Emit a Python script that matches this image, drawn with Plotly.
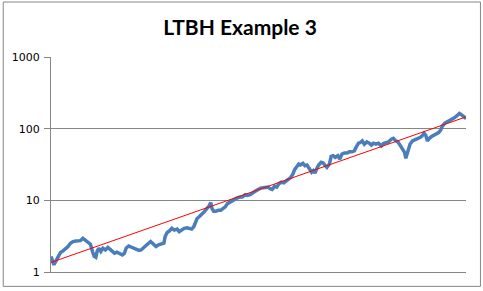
import plotly.graph_objects as go

# time (years, 0..100) and price values
t = [0, 0.4, 0.7, 1.2, 1.7, 2.3, 2.9, 3.6, 4.1, 4.7, 5.3, 6.0, 6.5, 7.1, 7.7, 8.3, 8.9, 9.5,
     10.0, 10.4, 10.8, 11.1, 11.5, 12.0, 12.5, 13.1, 13.7, 14.3, 14.8, 15.3, 15.9, 16.5,
     17.2, 17.7, 18.1, 18.7, 19.3, 19.9, 20.5, 21.2, 21.7, 22.3, 22.9, 23.5, 24.0, 24.5,
     25.3, 25.9, 26.5, 27.2, 27.5, 28.0, 28.5, 29.1, 29.7, 30.4, 30.9, 31.5, 32.1, 32.8,
     33.3, 33.9, 34.4, 34.8, 35.2, 35.7, 36.1, 36.5, 36.9, 37.3, 37.7, 38.1, 38.5, 38.8,
     39.2, 39.7, 40.3, 40.9, 41.5, 42.0, 42.5, 43.1, 43.7, 44.3, 44.9, 45.6, 46.1, 46.8,
     47.3, 48.0, 48.8, 49.3, 49.9, 50.5, 51.2, 51.7, 52.3, 52.8, 53.3, 53.9, 54.4, 54.9,
     55.5, 56.1, 56.7, 57.3, 57.8, 58.3, 58.7, 59.3, 59.7, 60.1, 60.7, 61.2, 61.7, 62.3,
     62.8, 63.2, 63.6, 64.0, 64.5, 65.1, 65.6, 66.1, 66.5, 67.1, 67.5, 68.0, 68.5, 69.1,
     69.6, 70.1, 70.7, 71.3, 71.9, 72.5, 73.1, 73.5, 74.1, 74.5, 75.0, 75.5, 76.1, 76.7,
     77.2, 77.7, 78.3, 78.9, 79.6, 80.1, 80.7, 81.3, 82.0, 82.5, 83.1, 83.6, 84.1, 84.7,
     85.2, 85.5, 85.8, 86.1, 86.5, 87.1, 87.7, 88.3, 88.9, 89.4, 89.9, 90.3, 90.7, 91.1,
     91.7, 92.2, 92.9, 93.4, 93.9, 94.3, 94.9, 95.5, 96.1, 96.6, 97.2, 97.9, 98.4, 98.8,
     99.2, 99.8, 100]
price = [1.65, 1.33, 1.26, 1.43, 1.65, 1.87, 1.97, 2.10, 2.27, 2.52, 2.66, 2.71, 2.71, 2.74,
         2.95, 2.74, 2.60, 2.44, 1.93, 1.65, 1.60, 1.93, 2.15, 1.93, 2.15, 2.03, 2.20, 2.03,
         1.93, 1.83, 1.89, 1.83, 1.73, 1.83, 2.15, 2.31, 2.22, 2.15, 2.03, 2.00, 2.03, 2.20,
         2.39, 2.52, 2.66, 2.52, 2.27, 2.39, 2.44, 2.52, 3.12, 3.57, 3.72, 4.06, 3.85, 3.97,
         3.65, 3.85, 4.06, 4.15, 4.06, 3.97, 4.28, 5.12, 5.58, 5.89, 6.34, 6.54, 6.90, 7.50,
         7.84, 8.36, 9.29, 7.67, 7.04, 7.04, 7.27, 7.27, 7.84, 8.10, 9.00, 9.49, 9.68, 10.5,
         10.8, 11.1, 11.1, 12.0, 11.7, 12.0, 13.1, 13.5, 14.2, 14.8, 15.0, 15.3, 15.3, 14.5,
         14.2, 15.8, 15.3, 17.0, 17.9, 17.5, 18.9, 19.9, 21.0, 23.4, 26.8, 29.9, 32.1, 31.1,
         32.9, 30.4, 31.1, 27.4, 24.7, 26.0, 24.1, 27.4, 31.1, 33.9, 33.2, 30.4, 28.9, 32.1,
         41.1, 41.9, 39.8, 41.9, 37.7, 44.2, 45.6, 45.6, 47.5, 47.5, 49.1, 54.7, 62.7, 64.1,
         67.5, 60.7, 65.3, 62.7, 58.9, 62.7, 60.7, 62.7, 57.5, 62.1, 64.1, 65.3, 71.3, 73.5,
         67.5, 65.3, 58.9, 53.0, 46.6, 38.5, 44.2, 53.0, 60.7, 67.5, 71.3, 72.8, 75.2, 79.1,
         86.3, 80.9, 67.5, 72.8, 77.6, 80.9, 83.5, 88.2, 95.8, 109, 119, 124, 128, 135, 142,
         153, 163, 158, 150, 142, 143]

trend_t = [0, 100]
trend_v = [1.36, 146]

title_text = "LTBH Example 3"
ytick_vals = [1, 10, 100, 1000]
ytick_text = ["1", "10", "100", "1000"]

fig = go.Figure()
fig.add_trace(go.Scatter(x=t, y=price, mode="lines",
                         line=dict(color="#4a7ebb", width=3.5), showlegend=False))
fig.add_trace(go.Scatter(x=trend_t, y=trend_v, mode="lines",
                         line=dict(color="#ff0000", width=1), showlegend=False))

fig.update_layout(
    width=483, height=291,
    margin=dict(l=49.5, r=16.5, t=57, b=17, pad=0),
    paper_bgcolor="white", plot_bgcolor="white",
    title=dict(text=title_text, x=0.497, xanchor="center", y=0.905, yanchor="middle",
               font=dict(family="Lato", size=21, color="black", weight="bold")),
    xaxis=dict(range=[0, 100], showticklabels=False, showgrid=False, zeroline=False,
               showline=True, linecolor="#868686", linewidth=1, ticks=""),
    yaxis=dict(type="log", range=[0, 3], tickvals=ytick_vals, ticktext=ytick_text,
               showgrid=True, gridcolor="#868686", gridwidth=1, zeroline=False,
               showline=True, linecolor="#868686", linewidth=1,
               ticks="outside", ticklen=6, tickcolor="#868686", ticklabelstandoff=2,
               tickfont=dict(family="DejaVu Sans", size=11, color="black")),
    shapes=[dict(type="rect", xref="paper", yref="paper",
                 x0=-0.1151, x1=1.0348, y0=-0.0668, y1=1.2558,
                 line=dict(color="#868686", width=1), fillcolor="rgba(0,0,0,0)",
                 layer="below")],
)

fig.write_html("out.html")
